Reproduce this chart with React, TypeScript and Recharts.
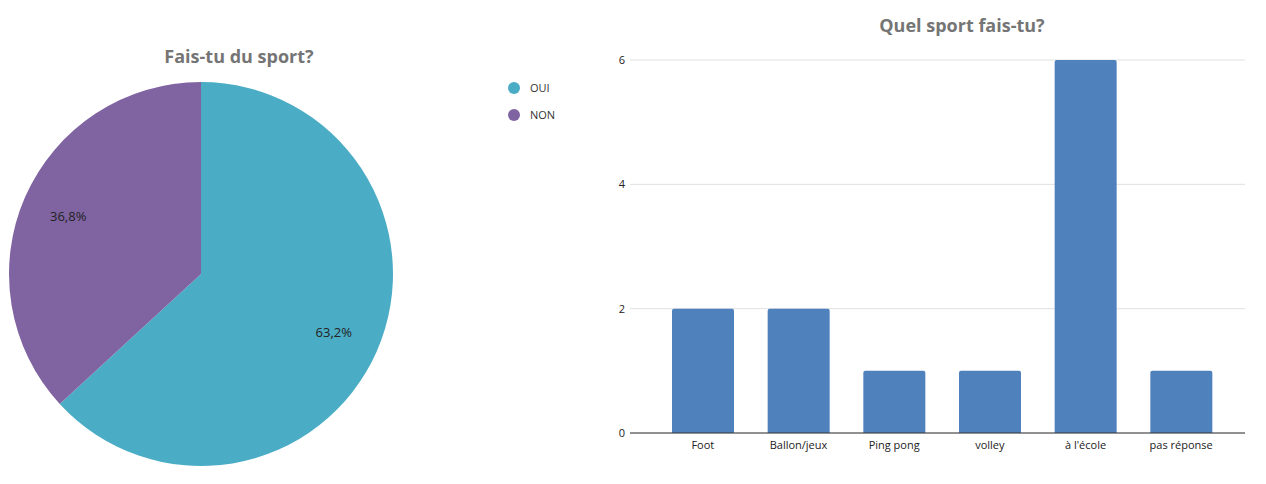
import React from "react";
import {
  PieChart, Pie, Cell, Legend,
  BarChart, Bar, XAxis, YAxis, CartesianGrid,
} from "recharts";

// Sondage : pratique du sport (19 réponses)
const reponses = ["OUI", "NON"];
const nbReponses = [12, 7];
const couleursPie = ["#4bacc6", "#8064a2"];

// Sports pratiqués
const sports = ["Foot", "Ballon/jeux", "Ping pong", "volley", "à l'école", "pas réponse"];
const nbSports = [2, 2, 1, 1, 6, 1];
const ticksY = [0, 2, 4, 6];

const pieData = reponses.map((name, i) => ({ name, value: nbReponses[i] }));
const barData = sports.map((name, i) => ({ name, value: nbSports[i] }));

const FONT = "'Open Sans', 'Noto Sans', sans-serif";
const RAD = Math.PI / 180;

const titre: React.CSSProperties = {
  position: "absolute",
  fontFamily: FONT,
  fontWeight: 700,
  fontSize: 18,
  color: "#757575",
  textAlign: "center",
  whiteSpace: "nowrap",
};

const PieLabel = (props: any) => {
  const { cx, cy, midAngle, percent } = props;
  const r = 145;
  const x = cx + r * Math.cos(-midAngle * RAD);
  const y = cy + r * Math.sin(-midAngle * RAD);
  return (
    <text x={x} y={y} fill="#222" fontSize={13} fontFamily={FONT}
      textAnchor="middle" dominantBaseline="central">
      {(percent * 100).toFixed(1).replace(".", ",") + "%"}
    </text>
  );
};

const LegendeSport = (props: any) => {
  const items = [...(props.payload || [])].sort(
    (a: any, b: any) => reponses.indexOf(a.value) - reponses.indexOf(b.value)
  );
  return (
    <div style={{ fontFamily: FONT, fontSize: 11, color: "#333" }}>
      {items.map((entry: any) => (
        <div key={entry.value} style={{ display: "flex", alignItems: "center", height: 27 }}>
          <span style={{
            width: 12, height: 12, borderRadius: 6, background: entry.color,
            display: "inline-block", marginRight: 10,
          }} />
          {entry.value}
        </div>
      ))}
    </div>
  );
};

export default function App() {
  return (
    <div style={{ position: "absolute", left: 0, top: 0, width: 1266, height: 484, background: "#fff" }}>
      <div style={{ ...titre, left: 0, width: 478, top: 44 }}>Fais-tu du sport?</div>
      <div style={{ position: "absolute", left: 0, top: 0 }}>
        <PieChart width={600} height={484} margin={{ top: 0, right: 0, bottom: 0, left: 0 }}>
          <Pie
            data={pieData}
            dataKey="value"
            nameKey="name"
            cx={201}
            cy={274}
            outerRadius={192}
            startAngle={90}
            endAngle={-270}
            stroke="none"
            label={PieLabel}
            labelLine={false}
            isAnimationActive={false}
          >
            {pieData.map((d, i) => (
              <Cell key={d.name} fill={couleursPie[i]} />
            ))}
          </Pie>
          <Legend
            layout="vertical"
            content={LegendeSport}
            wrapperStyle={{ left: 508, top: 74, width: 80 }}
          />
        </PieChart>
      </div>

      <div style={{ ...titre, left: 600, width: 724, top: 13 }}>Quel sport fais-tu?</div>
      <div style={{ position: "absolute", left: 600, top: 0 }}>
        <BarChart width={666} height={484} data={barData}
          margin={{ top: 60, right: 21, bottom: 21, left: 8 }}>
          <CartesianGrid vertical={false} stroke="#e0e0e0" />
          <XAxis
            dataKey="name"
            axisLine={{ stroke: "#333" }}
            tickLine={false}
            tickSize={0}
            tickMargin={8}
            height={30}
            padding={{ left: 25, right: 16 }}
            tick={{ fontSize: 11, fill: "#222", fontFamily: FONT }}
            interval={0}
          />
          <YAxis
            domain={[0, 6]}
            ticks={ticksY}
            axisLine={false}
            tickLine={false}
            tickSize={0}
            tickMargin={5}
            width={22}
            tick={{ fontSize: 11, fill: "#222", fontFamily: FONT }}
          />
          <Bar dataKey="value" fill="#4f81bd" barSize={62} radius={[2, 2, 0, 0]}
            isAnimationActive={false} />
        </BarChart>
      </div>
    </div>
  );
}
